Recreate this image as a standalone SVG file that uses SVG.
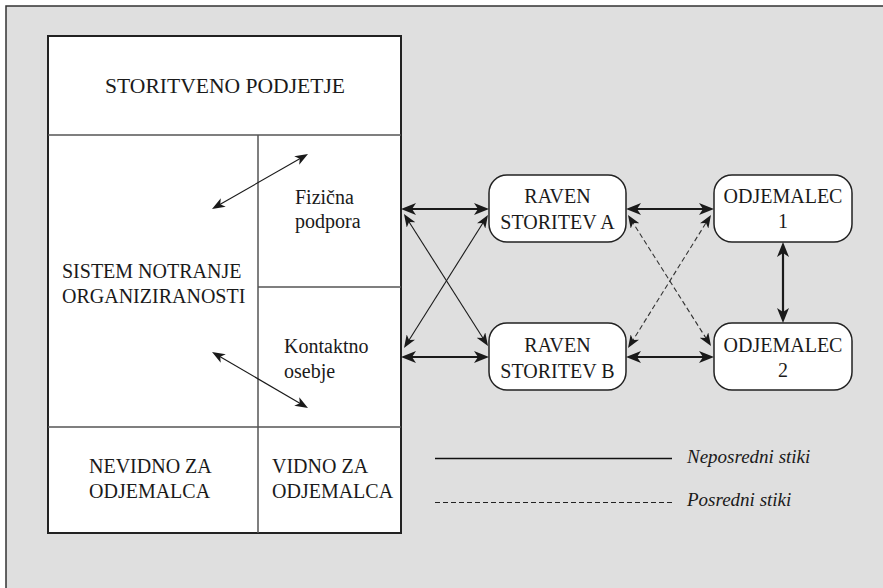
<svg xmlns="http://www.w3.org/2000/svg" width="883" height="588" viewBox="0 0 883 588">
  <defs>
    <marker id="ah" markerUnits="userSpaceOnUse" markerWidth="16" markerHeight="12" refX="9" refY="6" orient="auto-start-reverse" viewBox="0 0 16 12">
      <path d="M0,0 L15,6 L0,12 L4,6 z" fill="#1a1a1a"/>
    </marker>
    <marker id="ahs" markerUnits="userSpaceOnUse" markerWidth="14" markerHeight="10" refX="7" refY="5" orient="auto-start-reverse" viewBox="0 0 14 10">
      <path d="M0,0 L13,5 L0,10 L3.5,5 z" fill="#1a1a1a"/>
    </marker>
  </defs>
  <style>
    .t { font-family: "Liberation Serif", "Times New Roman", serif; font-size: 20px; fill: #1a1a1a; }
    .c { text-anchor: middle; }
    .it { font-family: "Liberation Serif", "Times New Roman", serif; font-size: 19px; font-style: italic; fill: #1a1a1a; }
    .box { fill: #ffffff; stroke: #222; stroke-width: 1.5; }
    .div { stroke: #555; stroke-width: 1.5; fill: none; }
    .thick { stroke: #1a1a1a; stroke-width: 2.2; fill: none; marker-start: url(#ah); marker-end: url(#ah); }
    .thin { stroke: #1a1a1a; stroke-width: 1.1; fill: none; marker-start: url(#ahs); marker-end: url(#ahs); }
    .dash { stroke: #333; stroke-width: 1.1; fill: none; stroke-dasharray: 5 3; marker-start: url(#ahs); marker-end: url(#ahs); }
  </style>
  <rect x="0" y="0" width="883" height="588" fill="#ffffff"/>
  <rect id="frame" x="6" y="6" width="900" height="600" fill="#dfdfdf" stroke="#333" stroke-width="1.5"/>

  <g id="main-box">
    <rect x="48" y="36" width="353" height="497" fill="#ffffff" stroke="#222" stroke-width="2"/>
    <line class="div" x1="48" y1="135" x2="401" y2="135"/>
    <line class="div" x1="258" y1="135" x2="258" y2="533"/>
    <line class="div" x1="258" y1="287" x2="401" y2="287"/>
    <line class="div" x1="48" y1="427" x2="401" y2="427"/>
  </g>
  <g id="storitveno-podjetje">
    <text class="t c" x="225" y="93" textLength="240" lengthAdjust="spacingAndGlyphs">STORITVENO PODJETJE</text>
  </g>
  <g id="sistem">
    <text class="t" x="62" y="278">SISTEM NOTRANJE</text>
    <text class="t" x="62" y="303">ORGANIZIRANOSTI</text>
  </g>
  <g id="fizicna-podpora">
    <text class="t" x="295" y="204">Fizična</text>
    <text class="t" x="295" y="228">podpora</text>
  </g>
  <g id="kontaktno-osebje">
    <text class="t" x="284" y="353">Kontaktno</text>
    <text class="t" x="284" y="378">osebje</text>
  </g>
  <g id="nevidno">
    <text class="t" x="89" y="473">NEVIDNO ZA</text>
    <text class="t" x="89" y="498">ODJEMALCA</text>
  </g>
  <g id="vidno">
    <text class="t" x="272" y="473">VIDNO ZA</text>
    <text class="t" x="272" y="498">ODJEMALCA</text>
  </g>

  <g id="raven-a">
    <rect class="box" x="489" y="175" width="137" height="67" rx="18" ry="18"/>
    <text class="t c" x="557.5" y="203">RAVEN</text>
    <text class="t c" x="557.5" y="229">STORITEV A</text>
  </g>
  <g id="raven-b">
    <rect class="box" x="489" y="323" width="137" height="67" rx="18" ry="18"/>
    <text class="t c" x="557.5" y="352">RAVEN</text>
    <text class="t c" x="557.5" y="378">STORITEV B</text>
  </g>
  <g id="odjemalec-1">
    <rect class="box" x="714" y="175" width="138" height="67" rx="18" ry="18"/>
    <text class="t c" x="783" y="203">ODJEMALEC</text>
    <text class="t c" x="783" y="228">1</text>
  </g>
  <g id="odjemalec-2">
    <rect class="box" x="714" y="323" width="138" height="67" rx="18" ry="18"/>
    <text class="t c" x="783" y="352">ODJEMALEC</text>
    <text class="t c" x="783" y="377">2</text>
  </g>

  <g id="connectors">
    <line class="thin" x1="217.2" y1="206" x2="302.8" y2="157"/>
    <line class="thin" x1="217.2" y1="355" x2="302.8" y2="405"/>
    <line class="thick" x1="407" y1="209" x2="483" y2="209"/>
    <line class="thick" x1="407" y1="357" x2="483" y2="357"/>
    <line class="thin" x1="407.2" y1="219" x2="484.8" y2="341"/>
    <line class="thin" x1="407.2" y1="343" x2="484.8" y2="220"/>
    <line class="thick" x1="632" y1="209" x2="708" y2="209"/>
    <line class="thick" x1="632" y1="357" x2="708" y2="357"/>
    <line class="dash" x1="631.2" y1="220" x2="707.8" y2="341"/>
    <line class="dash" x1="631.2" y1="343" x2="707.8" y2="220"/>
    <line class="thick" x1="783" y1="248" x2="783" y2="317"/>
  </g>

  <g id="legend">
    <line x1="435" y1="458.5" x2="672" y2="458.5" stroke="#111" stroke-width="1.3"/>
    <text class="it" x="687" y="463">Neposredni stiki</text>
    <line x1="435" y1="502.5" x2="672" y2="502.5" stroke="#222" stroke-width="1.2" stroke-dasharray="5 3"/>
    <text class="it" x="687" y="506">Posredni stiki</text>
  </g>
</svg>
